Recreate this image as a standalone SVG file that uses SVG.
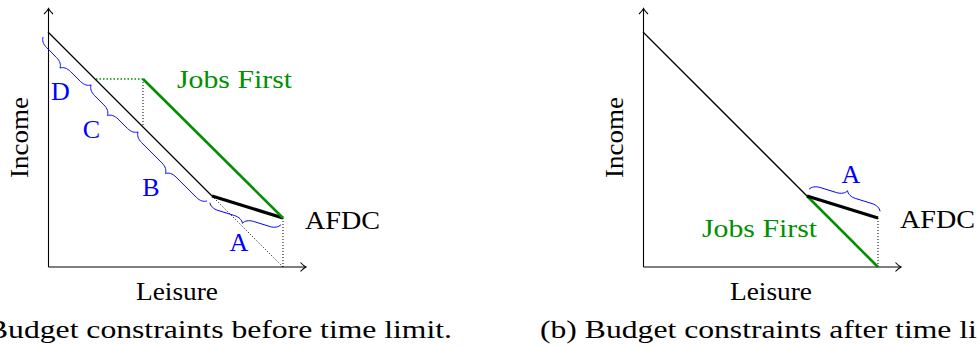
<svg xmlns="http://www.w3.org/2000/svg" width="977" height="347" viewBox="0 0 977 347">
<style>
.ax{stroke:#000;stroke-width:1.1;fill:none}
.thin{stroke:#000;stroke-width:1.3;fill:none}
.thick{stroke:#000;stroke-width:3.2;fill:none}
.green{stroke:#009000;stroke-width:2.6;fill:none}
.dot{stroke:#000;stroke-width:1;stroke-dasharray:1 2;fill:none}
.gdot{stroke:#009000;stroke-width:1.6;stroke-dasharray:1.5 2;fill:none}
.brace{stroke:#0000ff;stroke-width:0.9;fill:none}
.t{font-family:'Liberation Serif',serif;font-size:26px;fill:#000}
.gt{fill:#009000}
.bt{fill:#0000ff;text-anchor:middle}
</style>
<rect width="977" height="347" fill="#fff"/>

<!-- Left panel -->
<g id="left-axes">
  <path class="ax" d="M48.5,267 L48.5,9.5 M48.5,267 L305.5,267"/>
  <path class="ax" d="M44,14 Q47.3,11 48.5,8.5 Q49.7,11 53,14"/>
  <path class="ax" d="M300.5,262.5 Q303.5,265.8 306,267 Q303.5,268.2 300.5,271.5"/>
  <text class="t" x="136" y="300" textLength="82" lengthAdjust="spacingAndGlyphs">Leisure</text>
  <text class="t" transform="translate(28,178) rotate(-90)" x="0" y="0" textLength="81" lengthAdjust="spacingAndGlyphs">Income</text>
</g>
<g id="left-connectors">
  <path class="dot" d="M212,196 L283,267"/>
  <path class="dot" d="M283,218 L283,267"/>
  <path class="dot" d="M143,79 L143,127"/>
  <path class="gdot" d="M96,79 L143,79"/>
  <path class="thin" d="M48,32 L212,196"/>
  <path class="thick" d="M212,196 L283,218"/>
  <path class="green" d="M143,79 L283,218"/>
</g>
<g id="left-braces">
  <path class="brace" transform="matrix(0.7071,0.7071,-0.7071,0.7071,43.05,36.95)" d="M0,0 C1.5,3 5,5 10,5 L23.94,5 C28.94,5 32.44,7 33.94,10 C35.44,7 38.94,5 43.94,5 L57.88,5 C62.88,5 66.38,3 67.88,0"/>
  <path class="brace" transform="matrix(0.7071,0.7071,-0.7071,0.7071,91.05,84.95)" d="M0,0 C1.5,3 5,5 10,5 L23.23,5 C28.23,5 31.73,7 33.23,10 C34.73,7 38.23,5 43.23,5 L56.47,5 C61.47,5 64.97,3 66.47,0"/>
  <path class="brace" transform="matrix(0.7071,0.7071,-0.7071,0.7071,138.05,131.95)" d="M0,0 C1.5,3 5,5 10,5 L38.79,5 C43.79,5 47.29,7 48.79,10 C50.29,7 53.79,5 58.79,5 L87.58,5 C92.58,5 96.08,3 97.58,0"/>
  <path class="brace" transform="matrix(0.9552,0.2960,-0.2960,0.9552,209.93,202.69)" d="M0,0 C1.5,3 5,5 10,5 L27.17,5 C32.17,5 35.67,7 37.17,10 C38.67,7 42.17,5 47.17,5 L64.33,5 C69.33,5 72.83,3 74.33,0"/>
</g>
<g id="left-labels">
  <text class="t gt" x="177" y="88" textLength="115" lengthAdjust="spacingAndGlyphs">Jobs First</text>
  <text class="t" x="305" y="229" textLength="75" lengthAdjust="spacingAndGlyphs">AFDC</text>
  <text class="t bt" x="60.5" y="100">D</text>
  <text class="t bt" x="91.5" y="138">C</text>
  <text class="t bt" x="151" y="196">B</text>
  <text class="t bt" x="239" y="251">A</text>
  <text class="t" x="-13" y="338" textLength="465" lengthAdjust="spacingAndGlyphs">Budget constraints before time limit.</text>
</g>

<!-- Right panel -->
<g id="right-axes">
  <path class="ax" d="M643.5,267 L643.5,9.5 M643.5,267 L900.5,267"/>
  <path class="ax" d="M639,14 Q642.3,11 643.5,8.5 Q644.7,11 648,14"/>
  <path class="ax" d="M895.5,262.5 Q898.5,265.8 901,267 Q898.5,268.2 895.5,271.5"/>
  <text class="t" x="730" y="300" textLength="82" lengthAdjust="spacingAndGlyphs">Leisure</text>
  <text class="t" transform="translate(623,178) rotate(-90)" x="0" y="0" textLength="81" lengthAdjust="spacingAndGlyphs">Income</text>
</g>
<g id="right-connectors">
  <path class="dot" d="M878,218 L878,267"/>
  <path class="thin" d="M643,32 L807,196"/>
  <path class="green" d="M807,196 L878,267"/>
  <path class="thick" d="M807,196 L878,218"/>
</g>
<g id="right-braces">
  <path class="brace" transform="matrix(0.9552,0.2960,0.2960,-0.9552,809.07,189.31)" d="M0,0 C1.5,3 5,5 10,5 L27.17,5 C32.17,5 35.67,7 37.17,10 C38.67,7 42.17,5 47.17,5 L64.33,5 C69.33,5 72.83,3 74.33,0"/>
</g>
<g id="right-labels">
  <text class="t gt" x="702" y="237" textLength="115" lengthAdjust="spacingAndGlyphs">Jobs First</text>
  <text class="t" x="900" y="228" textLength="75" lengthAdjust="spacingAndGlyphs">AFDC</text>
  <text class="t bt" x="851" y="183">A</text>
  <text class="t" x="540" y="338" textLength="487" lengthAdjust="spacingAndGlyphs">(b) Budget constraints after time limit.</text>
</g>
</svg>
